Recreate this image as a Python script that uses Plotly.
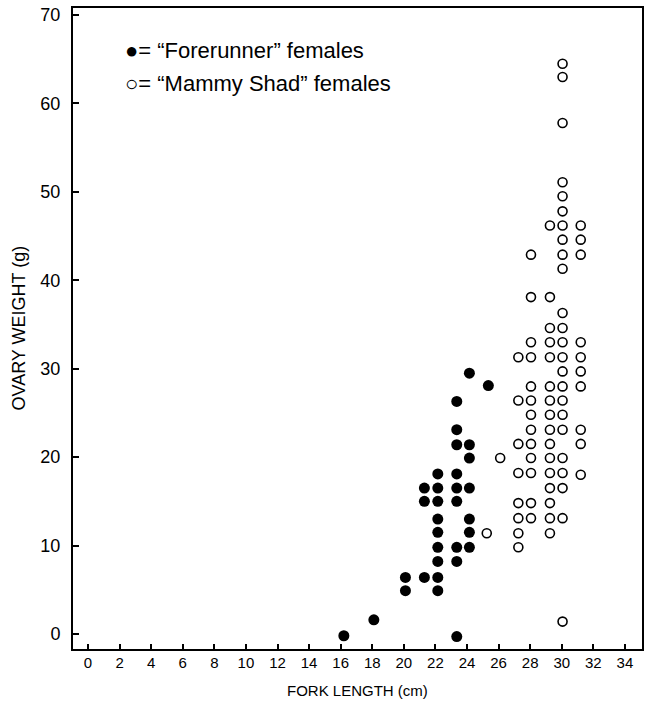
import plotly.graph_objects as go

# ---- data ----
forerunner_x = [16.2, 18.1,
                20.1, 20.1,
                21.3, 21.3, 21.3,
                22.15, 22.15, 22.15, 22.15, 22.15, 22.15, 22.15, 22.15, 22.15,
                23.35, 23.35, 23.35, 23.35, 23.35, 23.35, 23.35, 23.35, 23.35,
                24.15, 24.15, 24.15, 24.15, 24.15, 24.15, 24.15,
                25.35]
forerunner_y = [-0.2, 1.6,
                6.4, 4.9,
                16.5, 15.0, 6.4,
                18.1, 16.5, 15.0, 13.0, 11.5, 9.8, 8.2, 6.4, 4.9,
                26.3, 23.1, 21.4, 18.1, 16.5, 15.0, 9.8, 8.2, -0.3,
                29.5, 21.4, 19.9, 16.5, 13.0, 11.5, 9.8,
                28.1]

mammy_x = ([25.25, 26.1]
           + [27.25] * 8
           + [28.05] * 13
           + [29.25] * 16
           + [30.05] * 24
           + [31.2] * 10)
mammy_y = ([11.4, 19.9]
           + [31.3, 26.4, 21.5, 18.2, 14.8, 13.1, 11.4, 9.8]
           + [42.9, 38.1, 33.0, 31.3, 28.0, 26.4, 24.8, 23.1, 21.5, 19.9, 18.2, 14.8, 13.1]
           + [46.2, 38.1, 34.6, 33.0, 31.3, 28.0, 26.4, 24.8, 23.1, 21.5, 19.9, 18.2, 16.5, 14.8, 13.1, 11.4]
           + [64.5, 63.0, 57.8, 51.1, 49.5, 47.8, 46.2, 44.6, 42.9, 41.3, 36.3, 34.6, 33.0, 31.3,
              29.7, 28.0, 26.4, 24.8, 23.1, 19.9, 18.2, 16.5, 13.1, 1.4]
           + [46.2, 44.6, 42.9, 33.0, 31.3, 29.7, 28.0, 23.1, 21.5, 18.0])

x_ticks = list(range(0, 35, 2))
y_ticks = list(range(0, 71, 10))

FONT = "Liberation Sans, Arial, sans-serif"

fig = go.Figure()
fig.add_trace(go.Scatter(x=forerunner_x, y=forerunner_y, mode="markers",
                         marker=dict(symbol="circle", size=11, color="black"),
                         name="Forerunner", showlegend=False))
fig.add_trace(go.Scatter(x=mammy_x, y=mammy_y, mode="markers",
                         marker=dict(symbol="circle-open", size=9, color="black",
                                     line=dict(width=1.6, color="black")),
                         name="Mammy Shad", showlegend=False))

fig.update_layout(
    width=645, height=711,
    margin=dict(l=73, r=3, t=8, b=62),
    paper_bgcolor="white", plot_bgcolor="white",
    font=dict(family=FONT, color="black"),
    xaxis=dict(range=[-0.95, 35.08], tickvals=x_ticks, ticktext=[str(v) for v in x_ticks],
               ticks="inside", ticklen=5, tickwidth=1.5, tickcolor="black",
               showline=True, linewidth=2, linecolor="black", mirror=True,
               showgrid=False, zeroline=False, automargin=False,
               tickfont=dict(size=15, family=FONT, color="black"),
               ticklabelstandoff=-1),
    yaxis=dict(range=[-1.7, 70.8], tickvals=y_ticks, ticktext=[str(v) for v in y_ticks],
               ticks="inside", ticklen=6, tickwidth=1.5, tickcolor="black",
               showline=True, linewidth=2, linecolor="black", mirror=True,
               showgrid=False, zeroline=False, automargin=False,
               tickfont=dict(size=18, family=FONT, color="black"),
               ticklabelstandoff=7),
)

fig.add_annotation(text="FORK LENGTH (cm)", xref="paper", yref="paper", x=0.5, y=0,
                   yshift=-41, yanchor="middle", showarrow=False,
                   font=dict(size=15, family=FONT, color="black"))
fig.add_annotation(text="OVARY WEIGHT (g)", xref="paper", yref="paper", x=0, y=0.5,
                   xshift=-55, xanchor="center", textangle=-90, showarrow=False,
                   font=dict(size=18, family=FONT, color="black"))

fig.add_annotation(text="●= “Forerunner” females", xref="paper", yref="paper",
                   x=0, y=1, xshift=50, yshift=-42, xanchor="left", yanchor="middle",
                   showarrow=False, font=dict(size=22, family=FONT, color="black"))
fig.add_annotation(text="○= “Mammy Shad” females", xref="paper", yref="paper",
                   x=0, y=1, xshift=50, yshift=-75, xanchor="left", yanchor="middle",
                   showarrow=False, font=dict(size=22, family=FONT, color="black"))

fig.write_html("out.html",
               config={"displayModeBar": False},
               post_script="document.body.style.margin='0';document.body.style.padding='0';"
                           "document.body.style.overflow='hidden';")
